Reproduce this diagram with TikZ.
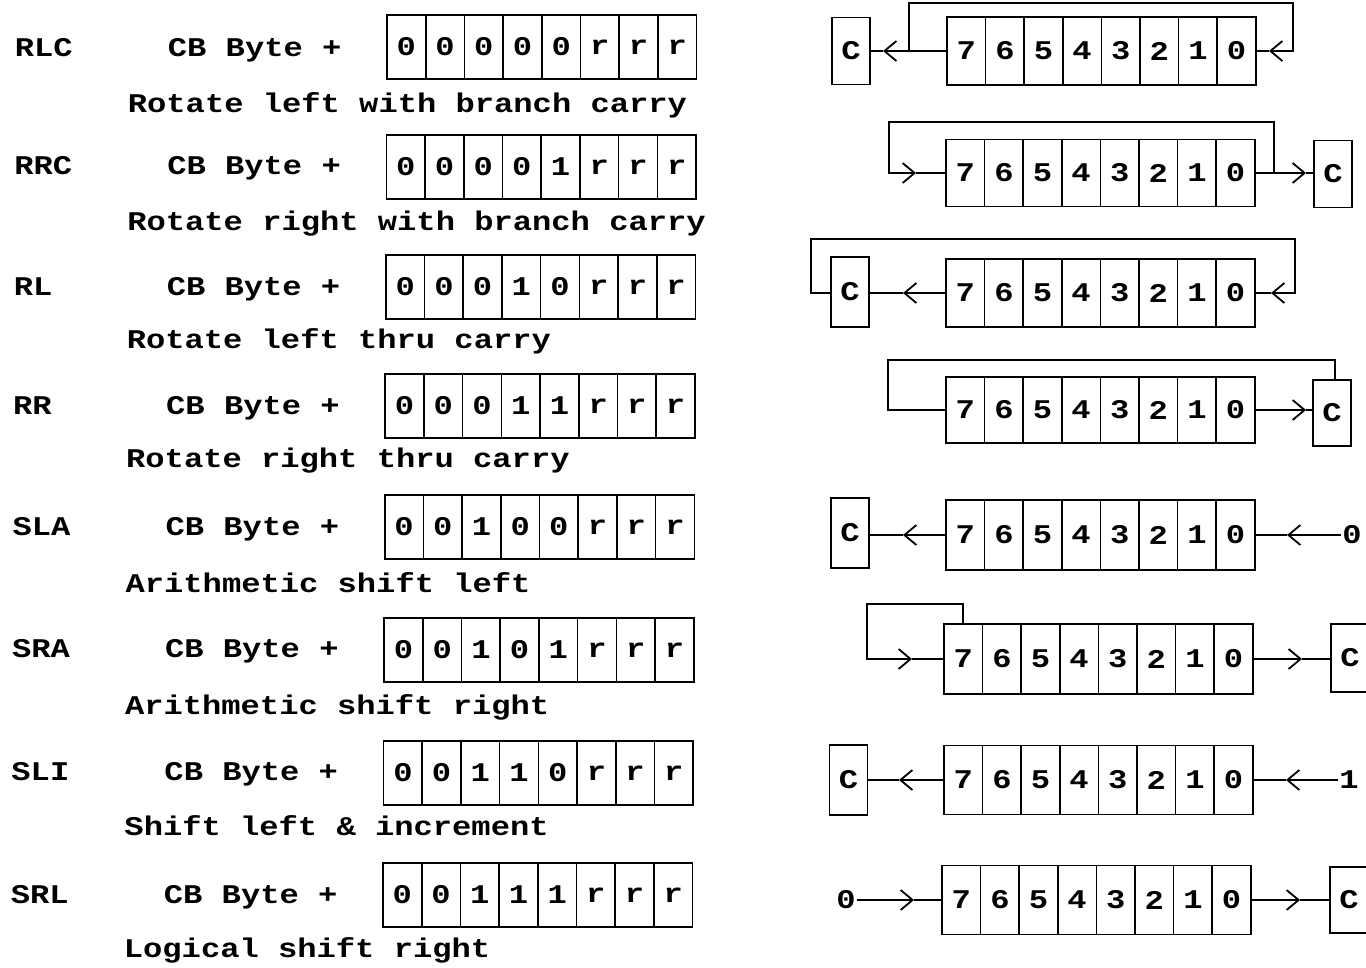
\documentclass[tikz,border=0pt]{standalone}
\usepackage{fontspec}
\setmainfont{Liberation Mono}[FakeStretch=1.19]
\usetikzlibrary{arrows.meta}
\newcommand{\mytxt}{\fontsize{27}{30}\selectfont\bfseries}
\newcommand{\regrow}[4]{%
  \foreach \k in {0,...,7}{%
    \pgfmathtruncatemacro{\dd}{7-\k}%
    \node[cell, minimum height=#4] (#1-\dd) at ({#2+19.3+\k*38.6}, #3) {\dd};
  }%
}
\newcommand{\bytebox}[4]{%
  \foreach \b [count=\k from 0] in #4 {%
    \node[bcell] (#1-\k) at ({#2+19.35+\k*38.7}, #3) {\b};
  }%
}
\begin{document}
\begin{tikzpicture}[x=1pt,y=-1pt,
  line width=1.8pt,
  every node/.style={font=\mytxt, inner sep=0pt},
  txt/.style={anchor=base west},
  cell/.style={draw, minimum width=38.6pt, line width=1.6pt},
  bcell/.style={draw, minimum width=38.7pt, minimum height=64pt, line width=1.6pt},
  cbox/.style={draw, minimum width=38pt, line width=1.6pt},
  arr/.style={-{Straight Barb[length=12pt,width=20pt]}},
  ]
\useasboundingbox (0,0) rectangle (1366,967);

% ---------- left column ----------
\foreach \lab/\lb/\bits/\desc/\db/\bt [count=\i from 1] in {
  RLC/56/{0,0,0,0,0,r,r,r}/{Rotate left with branch carry}/112/15,
  RRC/174/{0,0,0,0,1,r,r,r}/{Rotate right with branch carry}/230/135,
  RL/295/{0,0,0,1,0,r,r,r}/{Rotate left thru carry}/348/255,
  RR/414/{0,0,0,1,1,r,r,r}/{Rotate right thru carry}/467/374,
  SLA/535/{0,0,1,0,0,r,r,r}/{Arithmetic shift left}/592/495,
  SRA/657/{0,0,1,0,1,r,r,r}/{Arithmetic shift right}/714/618,
  SLI/780/{0,0,1,1,0,r,r,r}/{Shift left \& increment}/835/741,
  SRL/903/{0,0,1,1,1,r,r,r}/{Logical shift right}/957/863}{
  \pgfmathsetmacro{\dx}{-(\i-1)*4/7}
  \node[txt] (lab\i) at ({14+\dx}, \lb) {\lab};
  \node[txt] (cb\i) at ({167+\dx}, \lb) {CB Byte +};
  \node[txt] (desc\i) at ({127+\dx}, \db) {\desc};
  \bytebox{b\i}{387+\dx}{\bt+32}{\bits}
}

% ---------- RLC ----------
\regrow{r1}{947}{51}{68pt}
\node[cbox, minimum height=67pt] (c1) at (851,51) {C};
\coordinate (j1) at (909,51);
\coordinate (t1a) at (883,51);
\coordinate (l1a) at (909,3);
\coordinate (l1b) at (1293,3);
\coordinate (l1c) at (1293,51);
\coordinate (t1b) at (1269,51);
\draw[arr] (r1-7.west) -- (t1a);
\draw (t1a) -- (c1.east);
\draw[arr] (j1) -- (l1a) -- (l1b) -- (l1c) -- (t1b);
\draw (t1b) -- (r1-0.east);

% ---------- RRC ----------
\regrow{r2}{946}{173}{67pt}
\node[cbox, minimum height=67pt] (c2) at (1333,174) {C};
\coordinate (j2) at (1274,173);
\coordinate (t2b) at (1306,173);
\coordinate (l2a) at (1274,122);
\coordinate (l2b) at (889,122);
\coordinate (l2c) at (889,173);
\coordinate (t2a) at (916,173);
\draw (r2-0.east) -- (j2);
\draw[arr] (j2) -- (t2b);
\draw (t2b) -- (c2.west |- t2b);
\draw[arr] (j2) -- (l2a) -- (l2b) -- (l2c) -- (t2a);
\draw (t2a) -- (r2-7.west);

% ---------- RL ----------
\regrow{r3}{946}{293}{68pt}
\node[cbox, minimum height=70pt] (c3) at (850,292) {C};
\coordinate (t3a) at (903,293);
\coordinate (l3a) at (811,293);
\coordinate (l3b) at (811,239);
\coordinate (l3c) at (1295,239);
\coordinate (l3d) at (1295,293);
\coordinate (t3b) at (1271,293);
\draw[arr] (r3-7.west) -- (t3a);
\draw (t3a) -- (c3.east |- t3a);
\draw[arr] (c3.west |- l3a) -- (l3a) -- (l3b) -- (l3c) -- (l3d) -- (t3b);
\draw (t3b) -- (r3-0.east);

% ---------- RR ----------
\regrow{r4}{946}{410}{66pt}
\node[cbox, minimum height=66pt] (c4) at (1332,413) {C};
\coordinate (t4) at (1306,410);
\coordinate (l4a) at (888,410);
\coordinate (l4b) at (888,360);
\coordinate (l4c) at (1335,360);
\draw[arr] (r4-0.east) -- (t4);
\draw (t4) -- (c4.west |- t4);
\draw (r4-7.west) -- (l4a) -- (l4b) -- (l4c) -- (l4c |- c4.north);

% ---------- SLA ----------
\regrow{r5}{946}{535}{70pt}
\node[cbox, minimum height=70pt] (c5) at (850,533) {C};
\node (z5) at (1352,535) {0};
\coordinate (t5a) at (903,535);
\coordinate (t5b) at (1287,535);
\draw[arr] (r5-7.west) -- (t5a);
\draw (t5a) -- (c5.east |- t5a);
\draw[arr] (z5.west) -- (t5b);
\draw (t5b) -- (r5-0.east);

% ---------- SRA ----------
\regrow{r6}{944}{659}{70pt}
\node[cbox, minimum height=68pt] (c6) at (1350,658) {C};
\coordinate (l6a) at (963.3,604);
\coordinate (l6b) at (867,604);
\coordinate (l6c) at (867,659);
\coordinate (t6a) at (912,659);
\coordinate (t6b) at (1302,659);
\draw[arr] (r6-7.north) -- (l6a) -- (l6b) -- (l6c) -- (t6a);
\draw (t6a) -- (r6-7.west);
\draw[arr] (r6-0.east) -- (t6b);
\draw (t6b) -- (c6.west |- t6b);

% ---------- SLI ----------
\regrow{r7}{944}{780}{69pt}
\node[cbox, minimum height=70pt] (c7) at (848.5,780) {C};
\node (z7) at (1349,780) {1};
\coordinate (t7a) at (899,780);
\coordinate (t7b) at (1286,780);
\draw[arr] (r7-7.west) -- (t7a);
\draw (t7a) -- (c7.east);
\draw[arr] (z7.west) -- (t7b);
\draw (t7b) -- (r7-0.east);

% ---------- SRL ----------
\regrow{r8}{942}{900}{69pt}
\node[cbox, minimum height=66pt] (c8) at (1349,900) {C};
\node (z8) at (846,900) {0};
\coordinate (t8a) at (914,900);
\coordinate (t8b) at (1300,900);
\draw[arr] (z8.east) -- (t8a);
\draw (t8a) -- (r8-7.west);
\draw[arr] (r8-0.east) -- (t8b);
\draw (t8b) -- (c8.west);
\end{tikzpicture}
\end{document}
